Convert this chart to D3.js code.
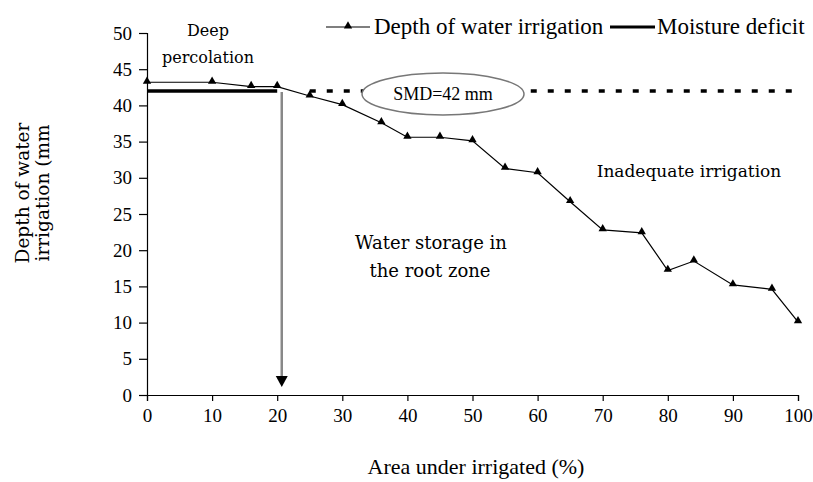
<!DOCTYPE html>
<html lang="en">
<head>
<meta charset="UTF-8">
<title>irrigation depth</title>
<script src="https://cdn.jsdelivr.net/npm/d3@7"></script>
<style>
  body { margin: 0; background: #fff; }
  text { font-family: "Liberation Serif", "Times New Roman", serif; fill: #000; }
  .note { font-family: "DejaVu Serif", serif; }
</style>
</head>
<body>
<div id="chart"></div>
<script>
// data
var areaPct = [0, 10, 16, 20, 25, 30, 36, 40, 45, 50, 55, 60, 65, 70, 76, 80, 84, 90, 96, 100];
var depthMm = [43.2, 43.2, 42.6, 42.6, 41.3, 40.1, 37.6, 35.6, 35.6, 35.1, 31.3, 30.7, 26.7, 22.8, 22.4, 17.2, 18.5, 15.2, 14.6, 10.1];
var smd = 42;
var deficitX = [0, 20];
var dashedX = [25, 100];
var arrowX = 20.7;
var xTicks = [0, 10, 20, 30, 40, 50, 60, 70, 80, 90, 100];
var yTicks = [0, 5, 10, 15, 20, 25, 30, 35, 40, 45, 50];

var W = 813, H = 482;
var x = d3.scaleLinear().domain([0, 100]).range([147, 798]);
var y = d3.scaleLinear().domain([0, 50]).range([395, 33]);

var svg = d3.select("#chart").append("svg")
    .attr("width", W).attr("height", H);

// axes
var xAxis = svg.append("g")
    .attr("transform", "translate(0," + y(0) + ")")
    .call(d3.axisBottom(x).tickValues(xTicks).tickSizeOuter(0).tickSize(6).tickPadding(8));
var yAxis = svg.append("g")
    .attr("transform", "translate(" + x(0) + ",0)")
    .call(d3.axisLeft(y).tickValues(yTicks).tickSizeOuter(0).tickSize(8).tickPadding(7));
svg.selectAll(".domain, .tick line").attr("stroke", "#000").attr("stroke-width", 1.2);
svg.selectAll(".tick text").style("font-size", "19px").style("font-family", "Liberation Serif");

// SMD dashed line
svg.append("line")
    .attr("x1", x(dashedX[0])).attr("x2", x(dashedX[1]))
    .attr("y1", y(smd)).attr("y2", y(smd))
    .attr("stroke", "#000").attr("stroke-width", 3.5)
    .attr("stroke-dasharray", "6,11");

// moisture deficit (thick line)
svg.append("line")
    .attr("x1", x(deficitX[0])).attr("x2", x(deficitX[1]))
    .attr("y1", y(smd)).attr("y2", y(smd))
    .attr("stroke", "#000").attr("stroke-width", 3.5);

// arrow down to the axis
var ax = x(arrowX);
svg.append("line")
    .attr("x1", ax).attr("x2", ax)
    .attr("y1", y(smd) + 1).attr("y2", y(0) - 16)
    .attr("stroke", "#888").attr("stroke-width", 2.5);
svg.append("path")
    .attr("d", "M" + (ax - 6) + "," + (y(0) - 19) + "L" + (ax + 6) + "," + (y(0) - 19) + "L" + ax + "," + (y(0) - 8) + "Z")
    .attr("fill", "#000");

// irrigation depth line
var pts = areaPct.map(function (a, i) { return [a, depthMm[i]]; });
var line = d3.line().x(function (d) { return x(d[0]); }).y(function (d) { return y(d[1]); });
svg.append("path").datum(pts)
    .attr("d", line).attr("fill", "none")
    .attr("stroke", "#000").attr("stroke-width", 1.2);
var tri = d3.symbol().type(d3.symbolTriangle).size(30);
svg.selectAll(".pt").data(pts).enter().append("path")
    .attr("class", "pt")
    .attr("d", tri)
    .attr("transform", function (d) { return "translate(" + x(d[0]) + "," + (y(d[1]) - 1) + ")"; })
    .attr("fill", "#000");

// SMD ellipse
svg.append("ellipse")
    .attr("cx", 443).attr("cy", 94).attr("rx", 81).attr("ry", 21)
    .attr("fill", "#fff").attr("stroke", "#777").attr("stroke-width", 1.5);
svg.append("text").attr("x", 443).attr("y", 100)
    .attr("text-anchor", "middle").style("font-size", "18px").text("SMD=42 mm");

// annotations
svg.append("text").attr("class", "note").attr("x", 208).attr("y", 36)
    .attr("text-anchor", "middle").style("font-size", "16px").text("Deep");
svg.append("text").attr("class", "note").attr("x", 208).attr("y", 63)
    .attr("text-anchor", "middle").style("font-size", "16px").text("percolation");
svg.append("text").attr("class", "note").attr("x", 431).attr("y", 249)
    .attr("text-anchor", "middle").style("font-size", "18px").text("Water storage in");
svg.append("text").attr("class", "note").attr("x", 430).attr("y", 277)
    .attr("text-anchor", "middle").style("font-size", "18px").text("the root zone");
svg.append("text").attr("class", "note").attr("x", 689).attr("y", 177)
    .attr("text-anchor", "middle").style("font-size", "17px").text("Inadequate irrigation");

// legend
var lg = svg.append("g");
lg.append("line").attr("x1", 326).attr("x2", 370).attr("y1", 27).attr("y2", 27)
    .attr("stroke", "#000").attr("stroke-width", 1.2);
lg.append("path").attr("d", tri).attr("transform", "translate(348,26)").attr("fill", "#000");
lg.append("text").attr("x", 374).attr("y", 34).style("font-size", "23px").text("Depth of water irrigation");
lg.append("line").attr("x1", 610).attr("x2", 655).attr("y1", 27).attr("y2", 27)
    .attr("stroke", "#000").attr("stroke-width", 3);
lg.append("text").attr("x", 657).attr("y", 34).style("font-size", "23px").text("Moisture deficit");

// axis titles
svg.append("text").attr("x", 476).attr("y", 474)
    .attr("text-anchor", "middle").style("font-size", "22px").text("Area under irrigated (%)");
var yt = svg.append("text").attr("class", "note")
    .attr("transform", "translate(29,193) rotate(-90)")
    .attr("text-anchor", "middle").style("font-size", "18.5px");
yt.append("tspan").attr("x", 0).attr("y", 0).text("Depth of water");
yt.append("tspan").attr("x", 0).attr("y", 20).text("irrigation (mm");
</script>
</body>
</html>
